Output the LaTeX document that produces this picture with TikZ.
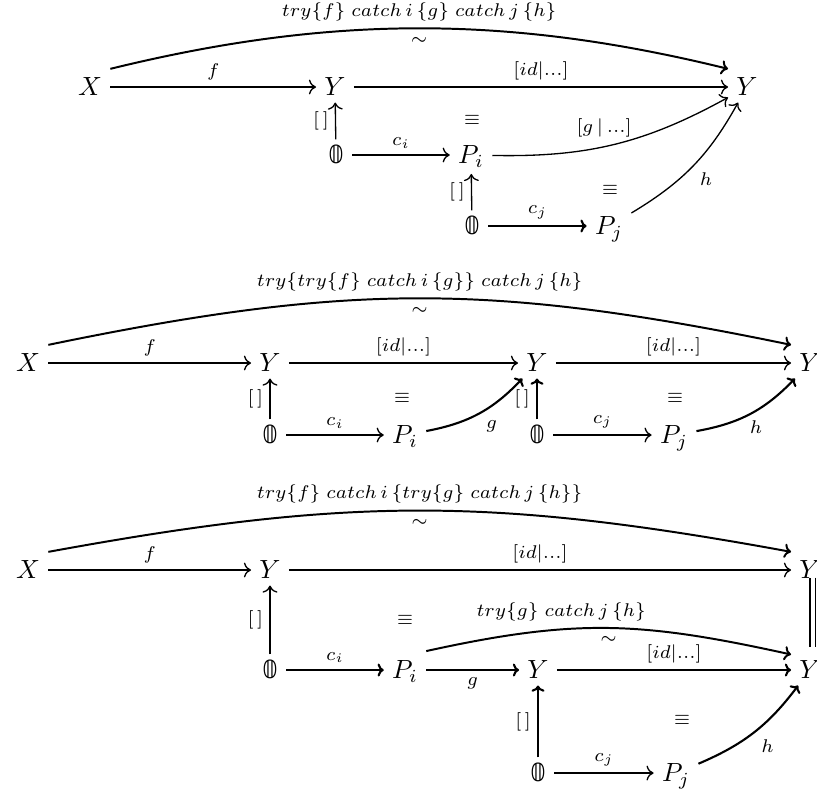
\documentclass[tikz,border=0pt]{standalone}
\usepackage{fontspec}
\newfontfamily\dvs{DejaVu Sans}
\newcommand{\bbzero}{\mbox{\dvs\fontsize{9.5pt}{10pt}\selectfont 𝟘}}
\usetikzlibrary{arrows.meta}
\begin{document}
\begin{tikzpicture}[x=0.38pt,y=-0.38pt,
  obj/.style={inner xsep=3pt, inner ysep=2.1pt, text height=7pt, text depth=0.2pt},
  pobj/.style={obj, text height=8.3pt, text depth=1.5pt},
  lab/.style={font=\scriptsize, inner sep=2.33pt},
  simlab/.style={font=\scriptsize, inner sep=3pt},
  ar/.style={->, line width=0.5pt},
  arb/.style={-{To[scale=0.7]}, line width=0.8pt},
  arcl/.style={-{To[scale=0.8]}, line width=0.75pt},
  eqn/.style={font=\scriptsize, inner sep=1pt}
]
\useasboundingbox (0,0) rectangle (817,793);

% ---------------- Diagram 1 ----------------
\node[obj]  (X1)  at (90,87)   {$X$};
\node[obj]  (Y1a) at (335,87)  {$Y$};
\node[obj]  (Y1b) at (747,87)  {$Y$};
\node[obj]  (Z1a) at (336,155) {\bbzero};
\node[pobj] (P1i) at (471,155) {$P_i$};
\node[obj]  (Z1b) at (472,226) {\bbzero};
\node[pobj] (P1j) at (609,226) {$P_j$};
\node[eqn]  (E1a) at (472,120) {$\equiv$};
\node[eqn]  (E1b) at (610,190) {$\equiv$};

\draw[arcl] ([yshift=1pt]X1.north east) .. controls +(220,-54) and +(-220,-54) .. ([yshift=1pt]Y1b.north west)
  node[lab, midway, above] {$try\{f\}\;catch\,i\,\{g\}\;catch\,j\,\{h\}$}
  node[simlab, midway, below] {$\sim$};
\draw[ar] (X1) -- node[lab, above] {$f$} (Y1a);
\draw[ar] (Y1a) -- node[lab, above] {$[id|...]$} (Y1b);
\draw[ar] (Z1a) -- node[lab, left] {$[\,]$} (Y1a);
\draw[ar] (Z1a) -- node[lab, above] {$c_i$} (P1i);
\draw[ar] (P1i) to[bend right=15] node[lab, above, xshift=-4pt] {$[g\,|\,...]$} (Y1b);
\draw[ar] (Z1b) -- node[lab, left] {$[\,]$} (P1i);
\draw[arb] (Z1b) -- node[lab, above] {$c_j$} (P1j);
\draw[ar] (P1j) to[bend right=15] node[lab, below right] {$h$} (Y1b);

% ---------------- Diagram 2 ----------------
\node[obj]  (X2)  at (28,363)  {$X$};
\node[obj]  (Y2a) at (270,363) {$Y$};
\node[obj]  (Y2b) at (537,363) {$Y$};
\node[obj]  (Y2c) at (810,363) {$Y$};
\node[obj]  (Z2a) at (270,435) {\bbzero};
\node[pobj] (P2i) at (405,435) {$P_i$};
\node[obj]  (Z2b) at (537,435) {\bbzero};
\node[pobj] (P2j) at (674,435) {$P_j$};
\node[eqn]  (E2a) at (402,398) {$\equiv$};
\node[eqn]  (E2b) at (675,398) {$\equiv$};

\draw[arcl] ([yshift=1pt]X2.north east) .. controls +(300,-62) and +(-300,-62) .. ([yshift=1pt]Y2c.north west)
  node[lab, midway, above] {$try\{try\{f\}\;catch\,i\,\{g\}\}\;catch\,j\,\{h\}$}
  node[simlab, midway, below] {$\sim$};
\draw[ar] (X2) -- node[lab, above] {$f$} (Y2a);
\draw[ar] (Y2a) -- node[lab, above] {$[id|...]$} (Y2b);
\draw[ar] (Y2b) -- node[lab, above] {$[id|...]$} (Y2c);
\draw[ar] (Z2a) -- node[lab, left] {$[\,]$} (Y2a);
\draw[ar] (Z2a) -- node[lab, above] {$c_i$} (P2i);
\draw[arb] (P2i) to[bend right=18] node[lab, below right] {$g$} (Y2b);
\draw[arb] (Z2b) -- node[lab, left] {$[\,]$} (Y2b);
\draw[ar] (Z2b) -- node[lab, above] {$c_j$} (P2j);
\draw[arb] (P2j) to[bend right=18] node[lab, below right, xshift=-3pt] {$h$} (Y2c);

% ---------------- Diagram 3 ----------------
\node[obj]  (X3)  at (28,570)  {$X$};
\node[obj]  (Y3a) at (270,570) {$Y$};
\node[obj]  (Y3b) at (810,570) {$Y$};
\node[obj]  (Z3a) at (270,670) {\bbzero};
\node[pobj] (P3i) at (405,670) {$P_i$};
\node[obj]  (Y3c) at (538,670) {$Y$};
\node[obj]  (Y3d) at (810,670) {$Y$};
\node[obj]  (Z3b) at (538,773) {\bbzero};
\node[pobj] (P3j) at (676,773) {$P_j$};
\node[eqn]  (E3a) at (405,620) {$\equiv$};
\node[eqn]  (E3b) at (682,720) {$\equiv$};

\draw[arcl] ([yshift=1pt]X3.north east) .. controls +(300,-55) and +(-300,-55) .. ([yshift=1pt]Y3b.north west)
  node[lab, midway, above] {$try\{f\}\;catch\,i\,\{try\{g\}\;catch\,j\,\{h\}\}$}
  node[simlab, midway, below] {$\sim$};
\draw[arcl] (P3i.north east) .. controls +(150,-33) and +(-150,-33) .. (Y3d.north west)
  node[lab, midway, above, xshift=-18pt] {$try\{g\}\;catch\,j\,\{h\}$}
  node[simlab, midway, below] {$\sim$};
\draw[ar] (X3) -- node[lab, above] {$f$} (Y3a);
\draw[ar] (Y3a) -- node[lab, above] {$[id|...]$} (Y3b);
\draw[ar] (Z3a) -- node[lab, left] {$[\,]$} (Y3a);
\draw[arb] (Z3a) -- node[lab, above] {$c_i$} (P3i);
\draw[arb] (P3i) -- node[lab, below] {$g$} (Y3c);
\draw[arb] (Y3c) -- node[lab, above] {$[id|...]$} (Y3d);
\draw[line width=0.6pt, double distance=1.6pt, shorten <=-3pt, shorten >=3pt]
  ([xshift=1pt]Y3b.south) -- ([xshift=1pt]Y3d.north);
\draw[arb] (Z3b) -- node[lab, left] {$[\,]$} (Y3c);
\draw[ar] (Z3b) -- node[lab, above] {$c_j$} (P3j);
\draw[arb] (P3j) to[bend right=15] node[lab, below right] {$h$} (Y3d);
\end{tikzpicture}
\end{document}
